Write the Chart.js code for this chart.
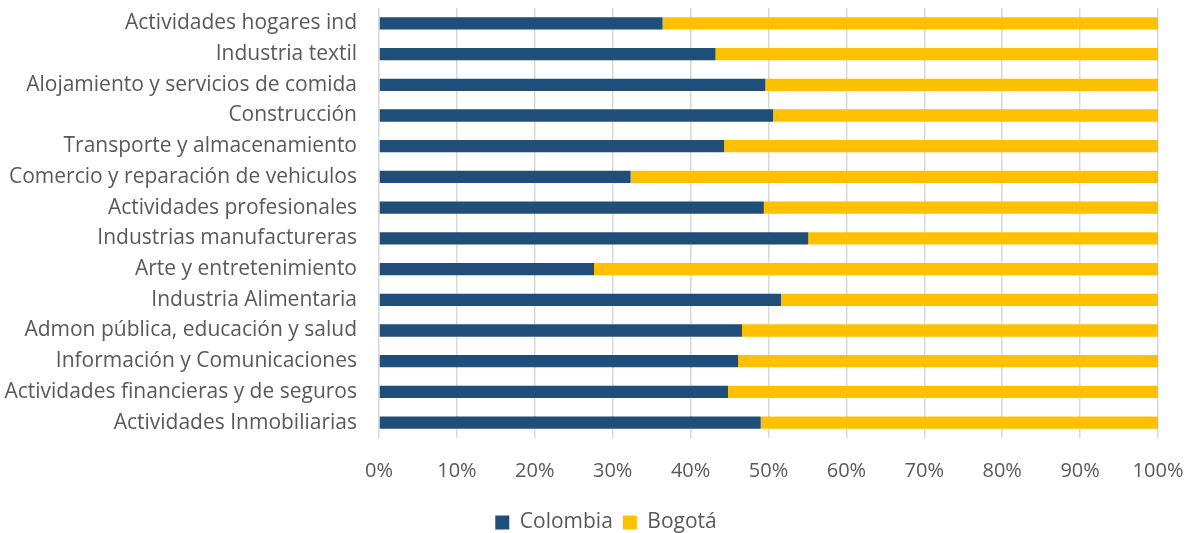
<!DOCTYPE html>
<html lang="es">
<head>
    <meta charset="UTF-8">
    <title>Colombia vs Bogotá por sector</title>
    <script src="https://cdn.jsdelivr.net/npm/chart.js"></script>
    <style>
        body { margin: 0; background: #fff; }
    </style>
</head>
<body>
    <canvas id="sectorChart" width="1191" height="533"></canvas>

    <script>
// Sectores (de arriba hacia abajo)
const sectors = [
    "Actividades hogares ind",
    "Industria textil",
    "Alojamiento y servicios de comida",
    "Construcción",
    "Transporte y almacenamiento",
    "Comercio y reparación de vehiculos",
    "Actividades profesionales",
    "Industrias manufactureras",
    "Arte y entretenimiento",
    "Industria Alimentaria",
    "Admon pública, educación y salud",
    "Información y Comunicaciones",
    "Actividades financieras y de seguros",
    "Actividades Inmobiliarias"
];

// participación (%)
const colombia = [36.4, 43.2, 49.6, 50.6, 44.3, 32.3, 49.4, 55.1, 27.6, 51.6, 46.6, 46.1, 44.8, 49.0];
const bogota   = [63.6, 56.8, 50.4, 49.4, 55.7, 67.7, 50.6, 44.9, 72.4, 48.4, 53.4, 53.9, 55.2, 51.0];

const xTicks = [0, 10, 20, 30, 40, 50, 60, 70, 80, 90, 100];

const textColor = "#595959";
const fontFamily = "'Open Sans', sans-serif";

// quita el relleno extra que Chart.js reserva para las etiquetas
function noScalePadding(scale) {
    scale.paddingTop = 0;
    scale.paddingBottom = 0;
    scale.paddingLeft = 0;
    scale.paddingRight = 0;
}

// corre la leyenda un poco a la derecha (centrada bajo el área de barras)
const legendShift = {
    id: 'legendShift',
    beforeDraw(chart) {
        if (chart.legend && !chart.legend._shifted) {
            chart.legend.left += 54;
            chart.legend._shifted = true;
        }
    }
};

const ctx = document.getElementById("sectorChart").getContext("2d");

new Chart(ctx, {
    type: 'bar',
    data: {
        labels: sectors,
        datasets: [
            {
                label: "Colombia",
                data: colombia,
                backgroundColor: "#1F4E79",
                barPercentage: 0.4,
                categoryPercentage: 1
            },
            {
                label: "Bogotá",
                data: bogota,
                backgroundColor: "#FFC000",
                barPercentage: 0.4,
                categoryPercentage: 1
            }
        ]
    },
    options: {
        indexAxis: 'y',
        responsive: false,
        animation: false,
        layout: {
            padding: { left: 0, right: 33, top: 8, bottom: -10 }
        },
        scales: {
            x: {
                stacked: true,
                min: 0,
                max: 100,
                afterBuildTicks: scale => {
                    scale.ticks = xTicks.map(v => ({ value: v }));
                },
                afterFit: scale => {
                    scale.height = 64;
                    noScalePadding(scale);
                },
                grid: {
                    color: "#d9d9d9",
                    lineWidth: 1.5,
                    drawTicks: false
                },
                border: { display: false },
                ticks: {
                    color: textColor,
                    font: { family: fontFamily, size: 20 },
                    padding: 21,
                    callback: v => v + "%"
                }
            },
            y: {
                stacked: true,
                afterFit: scale => {
                    scale.width = 379;
                    noScalePadding(scale);
                },
                grid: { display: false, drawTicks: false },
                border: { display: false },
                ticks: {
                    color: textColor,
                    font: { family: fontFamily, size: 21 },
                    padding: 22
                }
            }
        },
        plugins: {
            legend: {
                position: 'bottom',
                labels: {
                    color: textColor,
                    font: { family: fontFamily, size: 21 },
                    boxWidth: 14,
                    boxHeight: 14,
                    padding: 10
                }
            },
            tooltip: { enabled: false }
        }
    },
    plugins: [legendShift]
});
    </script>
</body>
</html>
